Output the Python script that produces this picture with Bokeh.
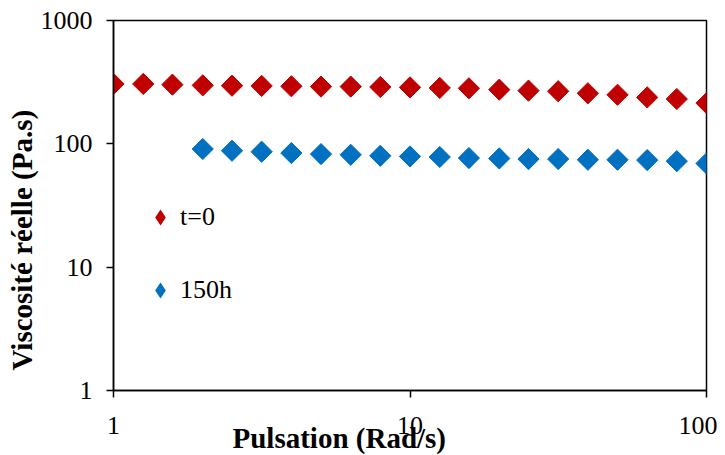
from bokeh.plotting import figure
from bokeh.models import Legend, LegendItem, FixedTicker, NumeralTickFormatter, Title
from bokeh.embed import file_html
from bokeh.resources import INLINE

# Data
pulsation = [1.0, 1.26, 1.58, 2.0, 2.51, 3.16, 3.98, 5.01, 6.31, 7.94, 10.0,
             12.6, 15.8, 20.0, 25.1, 31.6, 39.8, 50.1, 63.1, 79.4, 100.0]
visc_t0 = [306, 306, 302, 298, 296, 295, 293, 291, 291, 289, 287,
           284, 282, 275, 270, 267, 257, 250, 238, 231, 214]
pulsation_150h = pulsation[3:]
visc_150h = [90.8, 87.9, 86.3, 84.2, 82.6, 81.5, 80.0, 79.0, 78.2,
             76.7, 76.1, 75.3, 75.3, 74.3, 74.3, 73.8, 72.4, 69.3]
x_ticks = [1, 10, 100]
y_ticks = [1, 10, 100, 1000]
series_names = ["t=0", "150h"]
xlabel = "Pulsation (Rad/s)"
ylabel = "Viscosité  réelle (Pa.s)"

RED = "#C00000"
BLUE = "#0070C0"
FONT = "Liberation Serif"

p = figure(width=717, height=455, x_axis_type="log", y_axis_type="log",
           x_range=(1, 100), y_range=(1, 1000),
           output_backend="svg", toolbar_location=None,
           min_border_left=113, min_border_right=11,
           min_border_top=20, min_border_bottom=65)
p.grid.visible = False
p.outline_line_color = "black"
p.outline_line_width = 1.5
p.background_fill_color = "white"
p.border_fill_color = "white"

for ax in (p.xaxis[0], p.yaxis[0]):
    ax.axis_line_width = 1.5
    ax.major_tick_line_width = 1.5
    ax.major_tick_out = 7
    ax.major_tick_in = 0
    ax.minor_tick_line_color = None
    ax.major_label_text_font = FONT
    ax.major_label_text_font_size = "26px"
    ax.major_label_text_color = "black"
    ax.formatter = NumeralTickFormatter(format="0")

p.xaxis[0].ticker = FixedTicker(ticks=x_ticks)
p.yaxis[0].ticker = FixedTicker(ticks=y_ticks)
p.xaxis[0].major_label_standoff = 19
p.yaxis[0].major_label_standoff = 14

# data points: square diamonds
p.scatter(pulsation, visc_t0, marker="square", size=15, angle=0.785398,
          fill_color=RED, line_color=RED)
p.scatter(pulsation_150h, visc_150h, marker="square", size=15, angle=0.785398,
          fill_color=BLUE, line_color=BLUE)

# legend swatches: same data, zero-size markers (only the legend shows them)
l0 = p.scatter(pulsation, visc_t0, marker="diamond", size=0,
               fill_color=RED, line_color=None)
l1 = p.scatter(pulsation_150h, visc_150h, marker="diamond", size=0,
               fill_color=BLUE, line_color=None)

legend = Legend(items=[LegendItem(label=series_names[0], renderers=[l0]),
                       LegendItem(label=series_names[1], renderers=[l1])],
                location=(27, 80), orientation="vertical",
                glyph_width=40, glyph_height=40, label_height=40,
                label_standoff=0, spacing=33, padding=0, margin=0,
                border_line_alpha=0, background_fill_alpha=0,
                label_text_font=FONT, label_text_font_size="26px",
                label_text_color="black")
p.add_layout(legend, "center")

xt = Title(text=xlabel, align="left", offset=119, standoff=-34,
           text_font=FONT, text_font_size="29px", text_font_style="bold",
           text_color="black")
yt = Title(text=ylabel, align="left", offset=20, standoff=0,
           text_font=FONT, text_font_size="29px", text_font_style="bold",
           text_color="black")
p.add_layout(xt, "below")
p.add_layout(yt, "left")

open("out.html", "w").write(file_html(p, INLINE))
